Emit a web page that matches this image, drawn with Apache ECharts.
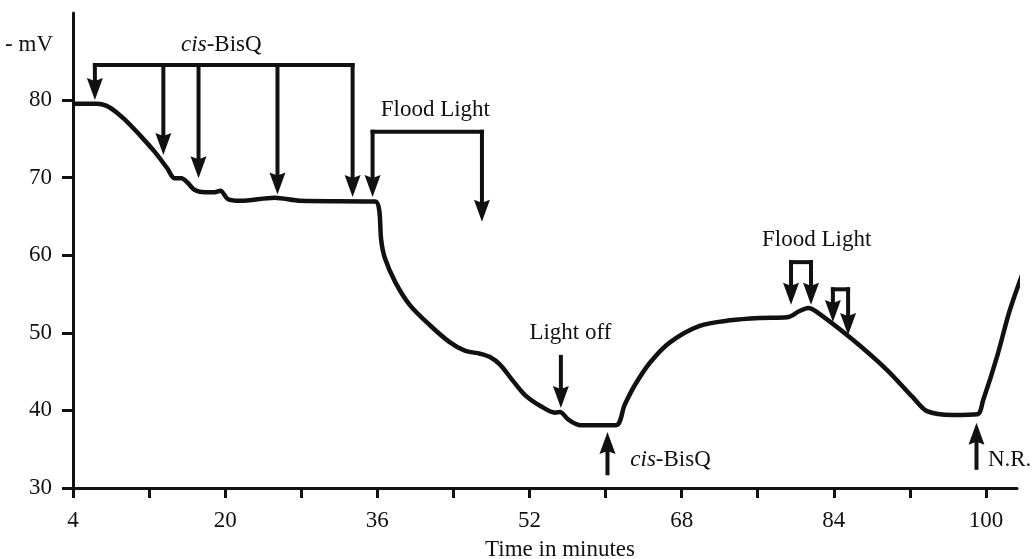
<!DOCTYPE html>
<html><head><meta charset="utf-8">
<script src="https://cdn.jsdelivr.net/npm/echarts@6/dist/echarts.min.js"></script>
<style>html,body{margin:0;padding:0;background:#fff}#c{width:1032px;height:559px}</style>
</head><body><div id="c"></div>
<script>
// Membrane potential trace (time in minutes, -mV)
const timeMin = [4.0, 6.5, 7.9, 9.5, 11.0, 12.6, 13.9, 14.7, 15.4, 16.0, 16.8, 17.9, 18.9, 19.5, 20.3, 21.6, 25.2, 27.9, 35.8, 36.2, 36.4, 36.8, 37.9, 39.4, 41.5, 43.6, 45.2, 46.8, 47.8, 48.9, 50.2, 51.5, 53.1, 54.7, 55.2, 56.1, 57.3, 61.1, 62.0, 63.1, 64.7, 66.8, 69.9, 73.1, 76.2, 79.1, 80.4, 81.3, 82.2, 86.0, 89.6, 92.3, 93.8, 96.5, 99.1, 99.7, 101.2, 102.5, 104.1];
const mV      = [79.5, 79.5, 79.0, 77.4, 75.5, 73.3, 71.2, 69.9, 69.9, 69.4, 68.4, 68.1, 68.1, 68.3, 67.2, 67.0, 67.4, 67.0, 66.9, 65.8, 62.0, 59.6, 56.5, 53.6, 51.0, 48.8, 47.7, 47.3, 46.9, 45.9, 43.9, 42.0, 40.6, 39.7, 39.8, 38.8, 38.1, 38.1, 40.7, 43.3, 46.2, 48.8, 50.9, 51.6, 51.9, 52.0, 52.8, 53.2, 52.7, 49.1, 45.2, 41.7, 39.9, 39.4, 39.5, 41.3, 47.1, 52.9, 58.5];

const xTickValues = [4, 12, 20, 28, 36, 44, 52, 60, 68, 76, 84, 92, 100];
const xLabelValues = [4, 20, 36, 52, 68, 84, 100];
const yTickValues = [30, 40, 50, 60, 70, 80];

// Bracket bars: [x start, x end, level mV]
const bracketStart = [6.3, 35.5, 79.5, 83.9];
const bracketEnd   = [33.4, 47.0, 81.6, 85.5];
const bracketLevel = [84.5, 75.9, 59.1, 55.6];

// Arrows: x, start level, tip level
const arrowX    = [6.3, 13.5, 17.2, 25.5, 33.4, 35.5, 47.0, 55.3, 60.2, 79.5, 81.6, 83.9, 85.5, 99.0];
const arrowFrom = [84.5, 84.5, 84.5, 84.5, 84.5, 75.9, 75.9, 46.9, 31.9, 59.1, 59.1, 55.6, 55.6, 32.6];
const arrowTip  = [80.0, 72.9, 69.9, 67.8, 67.5, 67.5, 64.3, 40.3, 37.2, 53.6, 53.6, 51.4, 49.7, 38.4];

// Notes
const noteText = ['{i|cis}-BisQ', 'Flood Light', 'Light off', '{i|cis}-BisQ', 'Flood Light', 'N.R.'];
const noteX    = [19.6, 42.1, 56.3, 62.6, 82.2, 100.2];
const noteY    = [87.1, 78.7, 50.0, 33.6, 62.0, 33.6];
const noteAlign = ['center', 'center', 'center', 'left', 'center', 'left'];

const FONT = '"Liberation Serif", "DejaVu Serif", serif';
const FS = 23;
const INK = '#111';

const chart = echarts.init(document.getElementById('c'), null, {renderer: 'canvas'});

function renderBar(params, api) {
  const a = api.coord([api.value(0), api.value(2)]);
  const b = api.coord([api.value(1), api.value(2)]);
  return {type: 'line', shape: {x1: a[0], y1: a[1], x2: b[0], y2: b[1]},
    style: {stroke: INK, lineWidth: 4, lineCap: 'square'}};
}
function renderArrow(params, api) {
  const x = api.value(0);
  const p0 = api.coord([x, api.value(1)]);
  const p1 = api.coord([x, api.value(2)]);
  const dir = p1[1] > p0[1] ? 1 : -1;
  const hl = 22, hw = 8;
  const base = p1[1] - dir * hl;
  return {type: 'group', children: [
    {type: 'line', shape: {x1: p0[0], y1: p0[1], x2: p0[0], y2: base + dir * 2},
      style: {stroke: INK, lineWidth: 4, lineCap: 'square'}},
    {type: 'polygon', shape: {points: [[p1[0] - hw, base], [p1[0], base + dir * 3], [p1[0] + hw, base], [p1[0], p1[1]]]},
      style: {fill: INK}}
  ]};
}
function renderNote(params, api) {
  const i = params.dataIndex;
  const p = api.coord([api.value(0), api.value(1)]);
  return {type: 'text', x: p[0], y: p[1],
    style: {text: noteText[i], fill: INK, font: FS + 'px ' + FONT, align: noteAlign[i], verticalAlign: 'middle',
      rich: {i: {fontStyle: 'italic', fontSize: FS, fontFamily: FONT, fill: INK}}}};
}

chart.setOption({
  animation: false,
  backgroundColor: '#fff',
  grid: {left: 73, right: 15, top: 13, bottom: 71, containLabel: false, outerBoundsMode: 'none'},
  xAxis: {
    type: 'value', min: 4, max: 103.26,
    name: 'Time in minutes', nameLocation: 'middle', nameGap: 50,
    nameTextStyle: {fontFamily: FONT, fontSize: FS, color: INK, padding: [0, 0, 0, 30]},
    axisLine: {show: true, onZero: false, lineStyle: {color: INK, width: 3}},
    axisTick: {show: true, length: 10, lineStyle: {color: INK, width: 3}, customValues: xTickValues},
    axisLabel: {fontFamily: FONT, fontSize: FS, color: INK, margin: 21, customValues: xLabelValues},
    splitLine: {show: false}
  },
  yAxis: {
    type: 'value', min: 30, max: 91.2,
    axisLine: {show: true, onZero: false, lineStyle: {color: INK, width: 3}},
    axisTick: {show: true, length: 11, lineStyle: {color: INK, width: 3}, customValues: yTickValues},
    axisLabel: {fontFamily: FONT, fontSize: FS, color: INK, margin: 21, customValues: yTickValues},
    splitLine: {show: false}
  },
  graphic: [{type: 'text', x: 53, y: 45, style: {text: '- mV', font: FS + 'px ' + FONT, fill: INK, align: 'right', verticalAlign: 'middle'}}],
  series: [
    {type: 'line', data: timeMin.map((t, i) => [t, mV[i]]), showSymbol: false, smooth: 0.3,
      clip: false, lineStyle: {color: INK, width: 4.5}},
    {type: 'custom', renderItem: renderBar, clip: false,
      data: bracketStart.map((s, i) => [s, bracketEnd[i], bracketLevel[i]])},
    {type: 'custom', renderItem: renderArrow, clip: false,
      data: arrowX.map((x, i) => [x, arrowFrom[i], arrowTip[i]])},
    {type: 'custom', renderItem: renderNote, clip: false,
      data: noteX.map((x, i) => [x, noteY[i]])}
  ]
});
</script>
</body></html>
